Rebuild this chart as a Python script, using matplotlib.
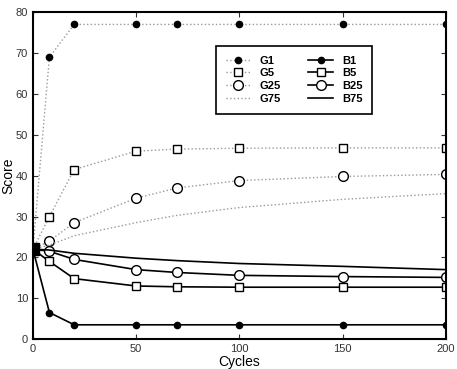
import matplotlib
matplotlib.use("Agg")
import matplotlib.pyplot as plt

plt.rcParams['font.family'] = ['Liberation Sans', 'DejaVu Sans']

cycles = [0, 8, 20, 50, 70, 100, 150, 200]

g1 = [22, 69, 77, 77, 77, 77, 77, 77]
g5 = [22, 30, 41.5, 46, 46.5, 46.7, 46.8, 46.8]
g25 = [22, 24, 28.5, 34.5, 37, 38.8, 39.8, 40.3]
g75 = [22, 23, 25.3, 28.5, 30.3, 32.2, 34.2, 35.6]

b1 = [22, 6.5, 3.5, 3.5, 3.5, 3.5, 3.5, 3.5]
b5 = [22, 19, 14.8, 13, 12.8, 12.7, 12.7, 12.7]
b25 = [22, 21.5, 19.5, 17, 16.3, 15.6, 15.3, 15.1]
b75 = [22, 21.8, 21, 19.8, 19.2, 18.5, 17.8, 17]

fig = plt.figure(figsize=(4.57, 3.69), dpi=100)
ax = fig.add_axes([0.072, 0.081, 0.904, 0.886])

gray = '#999999'
# good (dotted gray) series
ax.plot(cycles, g1, ls=':', color=gray, lw=1, marker='o', ms=4.5,
        mfc='black', mec='black', label='G1')
ax.plot(cycles, g5, ls=':', color=gray, lw=1, marker='s', ms=6,
        mfc='white', mec='black', mew=1, label='G5')
ax.plot(cycles, g25, ls=':', color=gray, lw=1, marker='o', ms=7,
        mfc='white', mec='black', mew=1, label='G25')
ax.plot(cycles, g75, ls=':', color=gray, lw=1, label='G75')

# bad (solid black) series
ax.plot(cycles, b1, ls='-', color='black', lw=1.2, marker='o', ms=4.5,
        mfc='black', mec='black', label='B1')
ax.plot(cycles, b5, ls='-', color='black', lw=1.2, marker='s', ms=6,
        mfc='white', mec='black', mew=1, label='B5')
ax.plot(cycles, b25, ls='-', color='black', lw=1.2, marker='o', ms=7,
        mfc='white', mec='black', mew=1, label='B25')
ax.plot(cycles, b75, ls='-', color='black', lw=1.2, label='B75')

# big overlapping start marker
ax.plot([cycles[0]], [b1[0]], marker='s', ms=8.5, color='black')

ax.set_xlim(0, 200)
ax.set_ylim(0, 80)
ax.set_xticks([0, 50, 100, 150, 200])
ax.set_yticks(range(0, 81, 10))
ax.tick_params(direction='in', top=True, right=True, labelsize=8, colors='#333333')
for s in ax.spines.values():
    s.set_linewidth(1.5)

ax.set_xlabel('Cycles', fontsize=10, labelpad=1)
ax.set_ylabel('Score', fontsize=10, labelpad=0)

leg = ax.legend(ncol=2, loc='upper right', bbox_to_anchor=(0.835, 0.915),
                prop={'weight': 'bold', 'size': 8},
                fancybox=False, edgecolor='black', framealpha=1,
                handlelength=2.2, columnspacing=2.5, labelspacing=0.25,
                borderpad=0.9)
leg.get_frame().set_linewidth(1.2)

fig.savefig('out.png', dpi=100)
